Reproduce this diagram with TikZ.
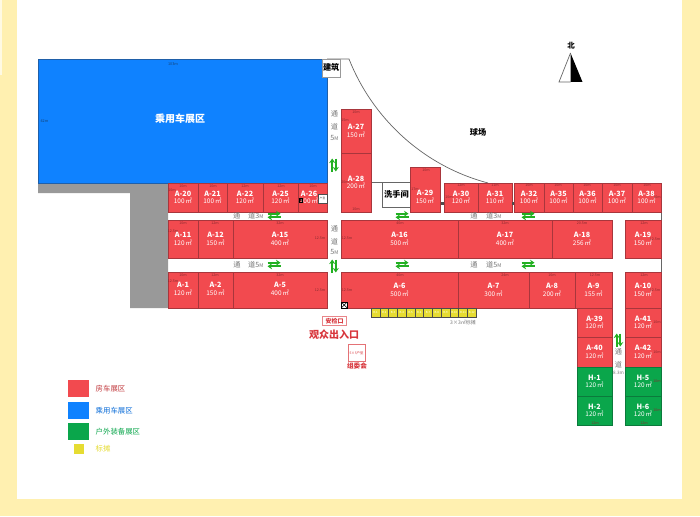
\documentclass[tikz,border=0pt]{standalone}
\usepackage{fontspec}
\setmainfont{Noto Sans CJK SC}
\usetikzlibrary{arrows.meta}
\definecolor{frameY}{HTML}{FFF0B0}
\definecolor{boothR}{HTML}{F24A4F}
\definecolor{boothE}{HTML}{A8363C}
\definecolor{carB}{HTML}{0F82FF}
\definecolor{carE}{HTML}{1F5FA8}
\definecolor{outG}{HTML}{0AA64B}
\definecolor{outE}{HTML}{0B7A3C}
\definecolor{stallY}{HTML}{E6DC32}
\definecolor{greyA}{HTML}{999999}
\definecolor{arrowG}{HTML}{22B022}
\definecolor{passT}{HTML}{777777}
\definecolor{redT}{HTML}{D8363C}
\tikzset{
  boxR/.style={draw=boothE,fill=boothR,line width=0.7pt,inner sep=0pt,outer sep=0pt},
  boxG/.style={draw=outE,fill=outG,line width=0.7pt,inner sep=0pt,outer sep=0pt},
  boothtxt/.style={text=white,align=center,inner sep=0pt,font=\fontsize{7.2}{7.5}\selectfont},
  dimtxt/.style={text=boothE!80!black,inner sep=0pt,font=\fontsize{3.6}{4}\selectfont},
  passtxt/.style={text=passT,inner sep=0pt,font=\fontsize{7.2}{8}\selectfont},
  blacktxt/.style={text=black,inner sep=0pt,font=\bfseries\fontsize{8.2}{9}\selectfont},
  stall/.style={draw=black!70,fill=stallY,line width=0.5pt,inner sep=0pt,outer sep=0pt,minimum width=8.8pt,minimum height=9pt,text=white,font=\fontsize{2.8}{3}\selectfont},
  legendtxt/.style={anchor=west,inner sep=0pt,font=\fontsize{7.4}{8}\selectfont},
  gadget/.style={draw=black!70,fill=white,line width=0.5pt,inner sep=0pt},
  swaparrow/.style={arrowG,line width=1.8pt,-{Stealth[length=4.5pt,width=6pt]}}
}
\newcommand\boothA[7][{(0,0)}]{%
  \pgfmathsetmacro\cxx{(#3+#5)/2}\pgfmathsetmacro\cyy{(#4+#6)/2}%
  \pgfmathsetmacro\www{#5-#3}\pgfmathsetmacro\hhh{#6-#4}%
  \node[boxR,minimum width=\www pt,minimum height=\hhh pt] (box-#2) at (\cxx,\cyy) {};
  \node[boothtxt] (lab-#2) at ([shift={#1}]\cxx,\cyy) {\textbf{#2}\\{\fontsize{6.4}{7.5}\selectfont #7\,㎡}};
}
\newcommand\boothG[6]{%
  \pgfmathsetmacro\cxx{(#2+#4)/2}\pgfmathsetmacro\cyy{(#3+#5)/2}%
  \pgfmathsetmacro\www{#4-#2}\pgfmathsetmacro\hhh{#5-#3}%
  \node[boxG,minimum width=\www pt,minimum height=\hhh pt] (box-#1) at (\cxx,\cyy) {};
  \node[boothtxt] (lab-#1) at (\cxx,\cyy) {\textbf{#1}\\{\fontsize{6.4}{7.5}\selectfont #6\,㎡}};
}
\newcommand\hswap[2]{%
  \draw[swaparrow] (#1-6.5,#2-1.8) -- (#1+6.5,#2-1.8);
  \draw[swaparrow] (#1+6.5,#2+1.8) -- (#1-6.5,#2+1.8);
}
\newcommand\vswap[2]{%
  \draw[swaparrow] (#1-1.8,#2+6.5) -- (#1-1.8,#2-6.5);
  \draw[swaparrow] (#1+1.8,#2-6.5) -- (#1+1.8,#2+6.5);
}
\begin{document}
\begin{tikzpicture}[x=1pt,y=-1pt]
\useasboundingbox (0,0) rectangle (700,516);
\fill[white] (0,0) rectangle (700,516);
% frame
\fill[frameY] (2,0) rectangle (17,516);
\fill[frameY!35] (0,0) rectangle (2,75);
\fill[frameY] (0,75) rectangle (2,516);
\fill[frameY] (682,0) rectangle (700,516);
\fill[frameY] (0,499) rectangle (700,516);
% grey L
\fill[greyA] (38,183) -- (168,183) -- (168,308) -- (130,308) -- (130,193) -- (38,193) -- cycle;
% car zone
\node[draw=carE,fill=carB,line width=0.7pt,minimum width=289pt,minimum height=124pt,inner sep=0pt,outer sep=0pt] (car) at (182.75,121) {};
\node[text=white,inner sep=0pt,font=\bfseries\fontsize{10}{11}\selectfont] (carlab) at (180,118.5) {乘用车展区};
% court curve and outlines
\draw[black!60,line width=0.7pt] (327,59) -- (349,59) .. controls (371,115) and (420,165) .. (488,183);
\draw[black!60,line width=0.7pt] (661,183) -- (661,425);
\node[draw=black!40,fill=white,line width=0.6pt,minimum width=17.5pt,minimum height=18pt,inner sep=0pt,outer sep=0pt] (bldg) at (331.2,68) {};
\node[blacktxt] (bldglab) at (331.2,67.5) {建筑};
\node[blacktxt] (court) at (478,132) {球场};
% wash room
\node[draw=black!60,fill=white,line width=0.6pt,minimum width=28pt,minimum height=25pt,inner sep=0pt,outer sep=0pt] (wash) at (396,194.5) {};
\node[blacktxt] (washlab) at (396.5,194) {洗手间};
\draw[black!60,line width=0.6pt] (371,182) -- (382,182);
% booths
\boothA{A-20}{168}{183}{198}{212}{100}
\boothA{A-21}{198}{183}{227}{212}{100}
\boothA{A-22}{227}{183}{263}{212}{120}
\boothA{A-25}{263}{183}{298}{212}{120}
\boothA[{(-3.5,0)}]{A-26}{298}{183}{327}{212}{100}
\boothA{A-11}{168}{220}{198}{258}{120}
\boothA{A-12}{198}{220}{233}{258}{150}
\boothA{A-15}{233}{220}{327}{258}{400}
\boothA[{(0,-1)}]{A-1}{168}{272}{198}{308}{120}
\boothA[{(0,-1)}]{A-2}{198}{272}{233}{308}{150}
\boothA[{(0,-1)}]{A-5}{233}{272}{327}{308}{400}
\boothA{A-27}{341}{109}{371}{153}{150}
\boothA{A-28}{341}{153}{371}{212}{200}
\boothA[{(0,7.5)}]{A-29}{410}{167}{440}{212}{150}
\boothA{A-30}{444}{183}{478}{212}{120}
\boothA{A-31}{478}{183}{512}{212}{110}
\boothA{A-32}{514}{183}{544}{212}{100}
\boothA{A-35}{544}{183}{573}{212}{100}
\boothA{A-36}{573}{183}{602}{212}{100}
\boothA{A-37}{602}{183}{632}{212}{100}
\boothA{A-38}{632}{183}{661}{212}{100}
\boothA{A-16}{341}{220}{458}{258}{500}
\boothA{A-17}{458}{220}{552}{258}{400}
\boothA{A-18}{552}{220}{612}{258}{256}
\boothA{A-19}{625}{220}{661}{258}{150}
\boothA{A-6}{341}{272}{458}{308}{500}
\boothA{A-7}{458}{272}{529}{308}{300}
\boothA{A-8}{529}{272}{575}{308}{200}
\boothA{A-9}{575}{272}{612}{308}{155}
\boothA{A-10}{625}{272}{661}{308}{150}
\boothA{A-39}{577}{308}{612}{337}{120}
\boothA{A-40}{577}{337}{612}{367}{120}
\boothA{A-41}{625}{308}{661}{337}{120}
\boothA{A-42}{625}{337}{661}{367}{120}
\boothG{H-1}{577}{367}{612}{396}{120}
\boothG{H-2}{577}{396}{612}{425}{120}
\boothG{H-5}{625}{367}{661}{396}{120}
\boothG{H-6}{625}{396}{661}{425}{120}
% dimension labels
\foreach \x/\y/\t in {183/186/10m,213/186/10m,245/186/12m,281/186/12m,313/186/10m,
  172/190/10m,183/223/10m,215/223/12m,280/223/32m,183/275/10m,215/275/12m,280/275/32m,
  173/231/12.5m,173/281/12.5m,320/238/12.5m,320/290/12.5m,
  356/112/10m,345/120/15m,345/182/20m,356/209/10m,426/170/10m,415/189/17m,
  461/185/12m,495/185/11m,449/197/10m,529/185/10m,558/185/10m,587/185/10m,617/185/10m,647/185/10m,657/197/10m,
  400/223/40m,505/223/32m,582/223/20.5m,644/223/12m,655/239/12.5m,
  400/275/40m,505/275/24m,552/275/16m,595/275/12.5m,644/275/12m,655/290/12.5m,
  347/238/12.5m,347/290/12.5m,
  657/322/10m,657/352/10m,657/381/10m,657/410/10m,595/423/12m,644/423/12m}
  {\node[dimtxt] (dim\x-\y) at (\x,\y) {\t};}
\node[text=carE!70!black,inner sep=0pt,font=\fontsize{3.8}{4}\selectfont] (dimtop) at (173,64) {103m};
\node[text=carE!70!black,inner sep=0pt,font=\fontsize{3.8}{4}\selectfont] (dimleft) at (44.5,121.5) {42m};
% small gadgets
\node[gadget,minimum width=8.5pt,minimum height=9pt] (g1) at (322.5,198.5) {};
\node[text=black!70,inner sep=0pt,font=\fontsize{2.8}{3}\selectfont] (g1t) at (322.5,198.5) {户型};
\node[draw=black,inner sep=0pt,minimum size=3.5pt,path picture={\draw[black,line width=.4pt] (path picture bounding box.north west) -- (path picture bounding box.south east) (path picture bounding box.north east) -- (path picture bounding box.south west);}] (x1) at (300.7,200) {};
\node[draw=black,fill=white,inner sep=0pt,minimum size=6pt,path picture={\draw[black,line width=.5pt] (path picture bounding box.north west) -- (path picture bounding box.south east) (path picture bounding box.north east) -- (path picture bounding box.south west);}] (x2) at (344.2,305) {};
\fill[black!70] (440.5,201.5) rectangle (443.8,205);
\fill[black!70] (512.2,201.5) rectangle (514,205);
% stalls
\foreach \i in {1,...,12}{
  \node[stall] (stall\i) at ({371.1+(\i-0.5)*8.75},312.5) {B-\i};
}
\node[text=passT,inner sep=0pt,font=\fontsize{5}{6}\selectfont] (stalllab) at (463,323) {3×3㎡标摊};
% passages
\node[passtxt] (p1a) at (334.5,114) {通};
\node[passtxt] (p1b) at (334.5,127) {道};
\node[passtxt] (p1c) at (334.5,137.5) {5\scalebox{.7}{M}};
\vswap{334}{165}
\node[passtxt] (p2a) at (334.5,229) {通};
\node[passtxt] (p2b) at (334.5,242) {道};
\node[passtxt] (p2c) at (334.5,252) {5\scalebox{.7}{M}};
\vswap{334}{266}
\node[passtxt] (p3a) at (236.7,216) {通};
\node[passtxt,anchor=west] (p3b) at (248,216) {道3\scalebox{.7}{M}};
\hswap{274}{215.5}
\node[passtxt] (p4a) at (237,264.5) {通};
\node[passtxt,anchor=west] (p4b) at (248,264.5) {道5\scalebox{.7}{M}};
\hswap{274}{264.5}
\hswap{402}{215.5}
\hswap{402}{264.5}
\node[passtxt] (p5a) at (474,216) {通};
\node[passtxt,anchor=west] (p5b) at (486,216) {道3\scalebox{.7}{M}};
\node[passtxt] (p6a) at (474,264.5) {通};
\node[passtxt,anchor=west] (p6b) at (486,264.5) {道5\scalebox{.7}{M}};
\hswap{528}{215.5}
\hswap{528}{264.5}
\vswap{618.5}{340}
\node[passtxt] (p7a) at (618.5,352) {通};
\node[passtxt] (p7b) at (618.5,365) {道};
\node[text=passT,inner sep=0pt,font=\fontsize{4.6}{5}\selectfont] (p7c) at (618.5,372.5) {8.3m};
% entrance
\node[draw=redT!60,fill=white,line width=0.6pt,minimum width=24pt,minimum height=9pt,inner sep=0pt,text=redT,font=\bfseries\fontsize{6}{7}\selectfont] (check) at (334.7,321) {安检口};
\node[text=redT,inner sep=0pt,font=\bfseries\fontsize{10}{11}\selectfont] (entry) at (334,335) {观众出入口};
\node[draw=redT!70,fill=white,line width=0.7pt,minimum width=17pt,minimum height=16.5pt,inner sep=0pt,text=redT,font=\fontsize{3.4}{4}\selectfont] (office) at (356.5,353) {5×5户型};
\node[text=redT,inner sep=0pt,font=\bfseries\fontsize{6.6}{7}\selectfont] (officelab) at (357,365.5) {组委会};
% north
\fill[white] (570.5,53) -- (559,82) -- (570.5,82) -- cycle;
\draw[black!60,line width=0.7pt] (570.5,53) -- (559,82) -- (570.5,82);
\fill[black] (570.5,53) -- (582.5,82) -- (570.5,82) -- cycle;
\node[text=black,inner sep=0pt,font=\bfseries\fontsize{7.5}{8}\selectfont] (north) at (571,46) {北};
% legend
\node[fill=boothR,minimum width=21pt,minimum height=17pt,inner sep=0pt] (lg1) at (78.5,388.5) {};
\node[fill=carB,minimum width=21pt,minimum height=17pt,inner sep=0pt] (lg2) at (78.5,410.5) {};
\node[fill=outG,minimum width=21pt,minimum height=17pt,inner sep=0pt] (lg3) at (78.5,431.5) {};
\node[fill=stallY,minimum width=10.5pt,minimum height=10pt,inner sep=0pt] (lg4) at (79.2,449) {};
\node[legendtxt,text=boothR!80!black] (lt1) at (95.5,389) {房车展区};
\node[legendtxt,text=carB!85!black] (lt2) at (95.5,410.5) {乘用车展区};
\node[legendtxt,text=outG] (lt3) at (95.5,431.5) {户外装备展区};
\node[legendtxt,text=stallY] (lt4) at (95.5,449) {标摊};
\end{tikzpicture}
\end{document}
